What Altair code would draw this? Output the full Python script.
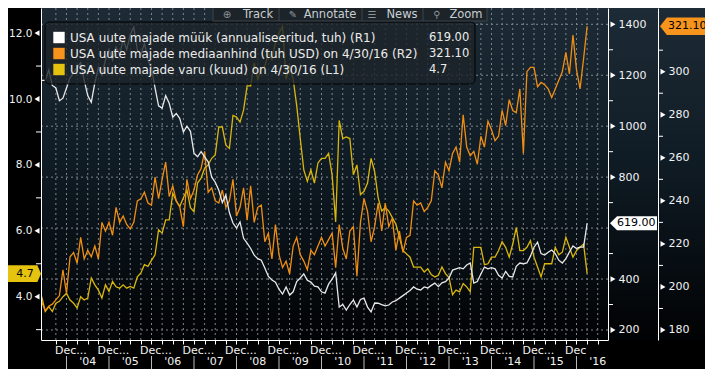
import altair as alt
import pandas as pd

# ---------------- data (monthly, Jun 2003 .. Apr 2016) ----------------
START_YEAR, START_MONTH = 2003, 6

sales = (  # USA new home sales, SAAR thousands (R1)
    [1180, 1180, 1220, 1160, 1150, 1100, 1110]
    + [1150, 1190, 1210, 1230, 1250, 1180, 1120, 1094, 1170, 1230, 1200, 1260]
    + [1300, 1260, 1310, 1280, 1340, 1300, 1360, 1389, 1300, 1280, 1325, 1260]
    + [1230, 1150, 1080, 1071, 1120, 1090, 1035, 1050, 1030, 977, 1000, 980]
    + [894, 880, 900, 880, 860, 800, 780, 749, 700, 730, 660, 620]
    + [600, 624, 560, 541, 520, 494, 480, 474, 443, 410, 396, 388]
    + [360, 341, 369, 337, 350, 390, 404, 420, 395, 388, 372, 369]
    + [350, 345, 380, 400, 424, 290, 300, 278, 300, 318, 290, 320]
    + [325, 290, 271, 306, 305, 300, 295, 298, 310, 315, 325, 335]
    + [345, 355, 369, 360, 357, 369, 365, 375, 384, 370, 385, 390]
    + [404, 435, 440, 445, 440, 455, 463, 384, 390, 420, 447, 440]
    + [445, 440, 415, 404, 430, 410, 408, 450, 463, 460, 463, 490]
    + [525, 545, 500, 494, 505, 514, 500, 474, 463, 480, 506, 530]
    + [520, 525, 525, 619]
)
price = (  # median price, thousand USD (R2)
    [193, 189, 191, 192, 194, 196, 208]
    + [197, 214, 216, 211, 223, 213, 217, 214, 219, 213, 230, 226]
    + [230, 224, 237, 230, 233, 229, 227, 230, 240, 241, 244, 239]
    + [238, 251, 241, 250, 258, 242, 247, 240, 237, 228, 250, 241]
    + [245, 252, 255, 263, 244, 246, 240, 239, 245, 237, 240, 250]
    + [233, 237, 246, 231, 247, 230, 237, 238, 221, 225, 213, 229]
    + [215, 209, 212, 206, 219, 223, 215, 212, 208, 217, 215, 219]
    + [223, 219, 222, 225, 209, 229, 218, 213, 226, 228, 205, 230]
    + [241, 235, 221, 228, 239, 226, 239, 228, 232, 217, 226, 216]
    + [223, 224, 240, 238, 239, 235, 237, 240, 254, 252, 246, 258]
    + [254, 262, 265, 258, 280, 265, 261, 263, 257, 270, 265, 277]
    + [273, 268, 270, 282, 275, 287, 282, 281, 292, 262, 300, 302]
    + [302, 293, 295, 294, 292, 288, 292, 296, 300, 309, 299, 317]
    + [301, 292, 306, 321.1]
)
supply = (  # months of supply (L1)
    [4.0, 3.55, 3.7, 3.55, 3.8, 3.86, 4.0]
    + [4.1, 3.9, 3.8, 3.66, 4.0, 3.9, 3.96, 4.57, 4.36, 4.2, 3.96, 4.36]
    + [4.16, 4.46, 4.3, 4.26, 4.36, 4.26, 4.31, 4.26, 4.6, 4.72, 4.97, 4.92]
    + [5.1, 5.27, 6.03, 5.93, 6.33, 6.33, 7.14, 6.9, 6.74, 7.0, 7.24, 6.7]
    + [6.58, 7.45, 7.6, 7.9, 8.0, 8.2, 8.3, 9.15, 9.15, 8.6, 8.5, 9.5]
    + [9.45, 9.3, 9.67, 10.4, 10.4, 11.1, 10.6, 10.9, 11.0, 11.4, 11.2, 11.7]
    + [12.0, 12.2, 10.6, 11.0, 10.6, 9.8, 8.8, 7.85, 7.5, 7.85, 7.45, 8.06]
    + [8.2, 8.2, 8.35, 7.7, 6.27, 9.35, 8.8, 8.85, 8.8, 7.7, 8.0, 7.1]
    + [7.2, 7.45, 8.2, 7.8, 7.0, 6.6, 6.7, 6.6, 6.4, 6.2, 5.8, 5.4]
    + [5.3, 5.2, 4.9, 4.9, 4.9, 4.75, 4.85, 4.67, 4.6, 4.65, 4.9, 4.7]
    + [4.58, 4.06, 4.2, 4.15, 4.4, 4.3, 4.15, 5.5, 5.5, 5.5, 4.97, 5.0]
    + [5.2, 5.2, 5.4, 5.67, 5.5, 5.2, 5.6, 6.1, 5.4, 5.4, 5.5, 5.7]
    + [5.2, 4.9, 4.6, 5.0, 5.0, 5.0, 5.5, 5.27, 5.35, 5.8, 5.5, 5.2]
    + [5.4, 5.5, 5.6, 4.7]
)
assert len(sales) == len(price) == len(supply) == 155

L1_major = [4, 6, 8, 10, 12]
L1_minor = [3, 5, 7, 9, 11]
R1_major = [200, 400, 600, 800, 1000, 1200, 1400]
R1_minor = [300, 500, 700, 900, 1100, 1300]
R2_major = [180, 200, 220, 240, 260, 280, 300]
R2_minor = [190, 210, 230, 250, 270, 290, 310]

years = list(range(2004, 2017))
year_labels = ["'04", "'05", "'06", "'07", "'08", "'09", "'10", "'11", "'12", "'13", "'14", "'15", "'16"]
dec_labels = ["Dec..."] * 12 + ["Dec"]

series_names = [
    "USA uute majade müük (annualiseeritud, tuh) (R1)",
    "USA uute majade mediaanhind (tuh USD) on 4/30/16 (R2)",
    "USA uute majade varu (kuud) on 4/30/16 (L1)",
]
series_last = ["619.00", "321.10", "4.7"]
toolbar_buttons = ["Track", "Annotate", "News", "Zoom"]
toolbar_icons = ["⊕", "✎", "☰", "⚲"]

# ---------------- styling / layout ----------------
WHITE, ORANGE, YELLOW = "#e8e8e8", "#ef8e14", "#d9b70d"
SW_COLORS = ["#ffffff", "#f7941d", "#e6c30f"]
FONT = "DejaVu Sans"
W, H = 567, 332
XDOM = [2003.4, 2016.7412]
L1S = alt.Scale(domain=[2.686, 12.762], nice=False, zero=False)
R1S = alt.Scale(domain=[160.7, 1464.0], nice=False, zero=False)
R2S = alt.Scale(domain=[175.35, 329.6], nice=False, zero=False)
xs = alt.Scale(domain=XDOM, nice=False, zero=False)

# tick labels covered by the last-value tags are not shown (as in the reference)
R1_shown = [v for v in R1_major if abs(v - sales[-1]) > 40]
R2_shown = [v for v in R2_major if abs(v - price[-1]) > 6]
L1_shown = [v for v in L1_major if abs(v - supply[-1]) > 0.4]

quarters = [2003.75 + 0.25 * k for k in range(52)]
x_axis = alt.Axis(orient="bottom", values=quarters, labels=False, ticks=True, tickSize=4,
                  tickColor="white", domainColor="white", grid=False, title=None, zindex=1)


def xenc(field):
    return alt.X(f"{field}:Q", scale=xs, axis=x_axis)


def yaxis(orient, values, fmt, pad, offset=0, size=11):
    return alt.Axis(orient=orient, values=values, format=fmt, labelPadding=pad, offset=offset,
                    ticks=True, tickSize=0, grid=False, domainColor="white", labelColor="#f2f2f2",
                    labelFont=FONT, labelFontSize=size, title=None, zindex=1)


t = [START_YEAR + (START_MONTH - 1 + i) / 12 for i in range(len(sales))]
df = pd.DataFrame({"t": t, "sales": sales, "price": price, "supply": supply})
one = pd.DataFrame({"k": [0]})

grad = alt.LinearGradient(
    gradient="linear", x1=0, x2=0, y1=0, y2=1,
    stops=[alt.GradientStop(color="#1d2b36", offset=0),
           alt.GradientStop(color="#101c25", offset=0.45),
           alt.GradientStop(color="#070d12", offset=0.78),
           alt.GradientStop(color="#010203", offset=1)])
bg = alt.Chart(one).mark_rect(fill=grad).encode(
    x=alt.value(0), x2=alt.value(W + 97), y=alt.value(0), y2=alt.value(H))

DASH = dict(color="#7f868b", strokeDash=[2, 3], strokeWidth=1)
vgrid = alt.Chart(pd.DataFrame({"q": quarters})).mark_rule(**DASH).encode(
    x=xenc("q"), y=alt.value(0), y2=alt.value(H))
hgrid = alt.Chart(pd.DataFrame({"v": R1_major})).mark_rule(**DASH).encode(
    y=alt.Y("v:Q", scale=R1S, axis=None), x=alt.value(0), x2=alt.value(W))

line_y = alt.Chart(df).mark_line(color=YELLOW, strokeWidth=1.3).encode(
    x=xenc("t"), y=alt.Y("supply:Q", scale=L1S, axis=yaxis("left", L1_shown, ".1f", 9, size=10.5)))
line_o = alt.Chart(df).mark_line(color=ORANGE, strokeWidth=1.3).encode(
    x=xenc("t"), y=alt.Y("price:Q", scale=R2S, axis=yaxis("right", R2_shown, "d", 10, 50)))
line_w = alt.Chart(df).mark_line(color=WHITE, strokeWidth=1.3).encode(
    x=xenc("t"), y=alt.Y("sales:Q", scale=R1S, axis=yaxis("right", R1_shown, "d", 10, 0)))

# legend panel
leg = pd.DataFrame({"name": series_names, "val": series_last})
ly = alt.Y("name:N", scale=alt.Scale(type="point", domain=series_names, range=[29.5, 61.5], padding=0), axis=None)
legend_box = alt.Chart(one).mark_rect(fill="#1d2429", fillOpacity=0.8, stroke="#000000",
                                      strokeWidth=1, cornerRadius=4).encode(
    x=alt.value(4), x2=alt.value(434), y=alt.value(14), y2=alt.value(76))
legend_sw = alt.Chart(leg).mark_square(size=130, opacity=1, filled=True).encode(
    x=alt.value(18), y=ly,
    color=alt.Color("name:N", scale=alt.Scale(domain=series_names, range=SW_COLORS), legend=None))
legend_txt = alt.Chart(leg).mark_text(align="left", baseline="middle", font=FONT, fontSize=12,
                                      color="#ececec").encode(x=alt.value(29), y=ly, text="name:N")
legend_val = alt.Chart(leg).mark_text(align="left", baseline="middle", font=FONT, fontSize=11.5,
                                      color="#ececec").encode(x=alt.value(388), y=ly, text="val:N")

# toolbar
toolbar = [alt.Chart(one).mark_rect(fill="#1c2429", stroke="#3c454c", strokeWidth=1).encode(
    x=alt.value(172), x2=alt.value(446), y=alt.value(-2), y2=alt.value(13))]
for sx in [238, 321, 382]:
    toolbar.append(alt.Chart(one).mark_rule(color="#3c454c").encode(
        x=alt.value(sx), y=alt.value(0), y2=alt.value(13)))
for lab, ic, cx, ix in zip(toolbar_buttons, toolbar_icons, [217, 289, 361, 425], [186, 252, 331, 396]):
    toolbar.append(alt.Chart(pd.DataFrame({"s": [lab]})).mark_text(
        font=FONT, fontSize=11.5, color="#c9ced2", baseline="middle").encode(
        x=alt.value(cx), y=alt.value(6.5), text="s:N"))
    toolbar.append(alt.Chart(pd.DataFrame({"s": [ic]})).mark_text(
        font=FONT, fontSize=10, color="#8d959b", baseline="middle").encode(
        x=alt.value(ix), y=alt.value(6.5), text="s:N"))

# axis markers (triangles) and minor ticks


def tri(vals, scale, xpos, shape):
    return alt.Chart(pd.DataFrame({"v": vals})).mark_point(
        shape=shape, filled=True, size=34, color="white", opacity=1).encode(
        x=alt.value(xpos), y=alt.Y("v:Q", scale=scale, axis=None))


def minor(vals, scale, x0, x1):
    return alt.Chart(pd.DataFrame({"v": vals})).mark_rule(color="white", strokeWidth=1).encode(
        x=alt.value(x0), x2=alt.value(x1), y=alt.Y("v:Q", scale=scale, axis=None))


marks_axes = [
    tri(L1_shown, L1S, -4, "triangle-left"), minor(L1_minor, L1S, -5, 0),
    tri(R1_shown, R1S, W + 5, "triangle-right"), minor(R1_minor, R1S, W, W + 5),
    tri(R2_shown, R2S, W + 55, "triangle-right"), minor(R2_minor, R2S, W + 50, W + 55),
]

# last-value tags


def tag(value, label, scale, cx, w, h_ratio, arrow, fill, tx, align, left=True):
    if left:
        path = f"M -1 0 L {-1 + arrow} {-h_ratio} L 1 {-h_ratio} L 1 {h_ratio} L {-1 + arrow} {h_ratio} Z"
    else:
        path = f"M 1 0 L {1 - arrow} {-h_ratio} L -1 {-h_ratio} L -1 {h_ratio} L {1 - arrow} {h_ratio} Z"
    d = pd.DataFrame({"v": [value], "lab": [label]})
    box = alt.Chart(d).mark_point(shape=path, size=w * w, filled=True, fill=fill, opacity=1,
                                  strokeWidth=0).encode(
        x=alt.value(cx), y=alt.Y("v:Q", scale=scale, axis=None))
    txt = alt.Chart(d).mark_text(align=align, baseline="middle", font=FONT, fontSize=11,
                                 color="#000000").encode(
        x=alt.value(tx), y=alt.Y("v:Q", scale=scale, axis=None), text="lab:N")
    return [box, txt]


tags = (tag(sales[-1], series_last[0], R1S, 592.5, 47, 0.3, 0.3, "#ffffff", 576, "left")
        + tag(price[-1], series_last[1], R2S, 645.5, 53, 0.33, 0.26, "#f7941d", 627, "left")
        + tag(supply[-1], series_last[2], L1S, -18, 36, 0.47, 0.2, "#e6c30f", -16, "center", left=False))

# bottom labels
xl = pd.DataFrame({"yr": years, "mid": [y + 0.5 for y in years], "dec": dec_labels, "ylab": year_labels})
dec_txt = alt.Chart(xl).mark_text(align="left", baseline="middle", dx=-11.5, font=FONT, fontSize=11,
                                  color="#f2f2f2").encode(x=xenc("yr"), y=alt.value(343), text="dec:N")
year_txt = alt.Chart(xl).mark_text(align="center", baseline="middle", font=FONT, fontSize=11,
                                   color="#f2f2f2").encode(x=xenc("mid"), y=alt.value(353.5), text="ylab:N")
year_sep = alt.Chart(xl).mark_rule(color="#b8bcc0", strokeWidth=1).encode(
    x=xenc("yr"), y=alt.value(348), y2=alt.value(370))

layers = ([bg, vgrid, hgrid, line_y, line_o, line_w, legend_box, legend_sw, legend_txt, legend_val]
          + toolbar + marks_axes + tags + [dec_txt, year_txt, year_sep])

chart = alt.layer(*layers).resolve_scale(y="independent", color="independent").properties(
    width=W, height=H, autosize=alt.AutoSizeParams(type="none"),
    padding={"left": 33, "top": 0, "right": 97, "bottom": 29},
    background="#000000",
).configure_view(strokeWidth=0)

chart.save("out.html", embed_options={"renderer": "svg", "actions": False})
